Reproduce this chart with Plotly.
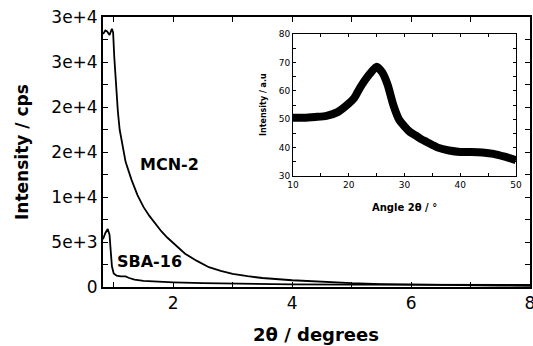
import plotly.graph_objects as go

# ---- data ----
mcn_x = [0.82, 0.86, 0.89, 0.93, 0.97, 0.99, 1.01, 1.04, 1.07, 1.10, 1.15, 1.20, 1.25, 1.30,
         1.40, 1.50, 1.60, 1.70, 1.80, 1.90, 2.0, 2.2, 2.4, 2.6, 2.8, 3.0, 3.25, 3.5, 4.0,
         4.5, 5.0, 5.5, 6.0, 6.5, 7.0, 7.5, 8.0]
mcn_y = [28100, 28500, 28400, 28000, 28700, 28300, 25500, 22000, 19500, 17500, 15500, 13900,
         12900, 11900, 10200, 8900, 7900, 7000, 6200, 5500, 4900, 3700, 2900, 2200, 1800, 1450,
         1200, 1000, 750, 550, 420, 330, 270, 220, 190, 160, 140]

sba_x = [0.82, 0.86, 0.90, 0.93, 0.95, 0.97, 1.00, 1.05, 1.12, 1.20, 1.26, 1.35, 1.5, 1.7,
         2.0, 2.5, 3.0, 4.0, 5.0, 6.0, 7.0, 8.0]
sba_y = [5300, 6000, 6450, 5800, 4000, 2300, 1500, 1250, 1180, 1180, 1000, 820, 680, 600,
         520, 420, 360, 300, 270, 250, 240, 230]

inset_x = [10, 12, 14, 16, 18, 20, 21, 22, 23, 24, 25, 26, 27, 28, 29, 30, 31, 32, 33, 34,
           36, 38, 40, 42, 44, 46, 48, 50]
inset_y = [50.5, 50.5, 50.8, 51.2, 52.5, 55.5, 57.5, 61, 64, 66.5, 68.5, 66.5, 62, 55, 50,
           47.5, 45.5, 44.3, 43, 42, 40, 39, 38.5, 38.5, 38.3, 37.8, 36.8, 35.6]

x_tickvals = [2, 4, 6, 8]
x_ticktext = ["2", "4", "6", "8"]
y_tickvals = [0, 5000, 10000, 15000, 20000, 25000, 30000]
y_ticktext = ["0", "5e+3", "1e+4", "2e+4", "2e+4", "3e+4", "3e+4"]
inset_xticks = [10, 20, 30, 40, 50]
inset_yticks = [30, 40, 50, 60, 70, 80]

FONT = "DejaVu Sans"

fig = go.Figure()
fig.add_trace(go.Scatter(x=mcn_x, y=mcn_y, mode="lines",
                         line=dict(color="black", width=1.8), xaxis="x", yaxis="y"))
fig.add_trace(go.Scatter(x=sba_x, y=sba_y, mode="lines",
                         line=dict(color="black", width=1.8), xaxis="x", yaxis="y"))
fig.add_trace(go.Scatter(x=inset_x, y=inset_y, mode="lines",
                         line=dict(color="black", width=8, shape="spline", smoothing=0.6),
                         xaxis="x2", yaxis="y2"))

axis_common = dict(showgrid=False, zeroline=False, showline=True, linecolor="black",
                   mirror="allticks", ticks="inside", tickcolor="black", automargin=False,
                   ticklabeloverflow="allow")

fig.update_layout(
    template="none",
    width=533, height=346,
    margin=dict(l=103, r=3, t=17, b=59),
    paper_bgcolor="white", plot_bgcolor="white",
    showlegend=False,
    font=dict(family=FONT, color="black"),
    xaxis=dict(**axis_common, range=[0.82, 8], linewidth=1.8, ticklen=5, tickwidth=1.2,
               tickmode="array", tickvals=x_tickvals, ticktext=x_ticktext,
               tickfont=dict(size=17, family=FONT),
               minor=dict(tickvals=[1, 3, 5, 7], ticks="inside", ticklen=5, tickcolor="black")),
    yaxis=dict(**axis_common, range=[0, 30000], linewidth=1.8, ticklen=5, tickwidth=1.2,
               tickmode="array", tickvals=y_tickvals, ticktext=y_ticktext,
               tickfont=dict(size=17, family=FONT),
               minor=dict(tickvals=[2500, 7500, 12500, 17500, 22500, 27500],
                          ticks="inside", ticklen=5, tickcolor="black")),
    xaxis2=dict(**axis_common, domain=[0.445, 0.967], anchor="y2", range=[10, 50],
                linewidth=1, ticklen=3, tickmode="array", tickvals=inset_xticks,
                tickfont=dict(size=9, family=FONT),
                minor=dict(tickvals=[15, 25, 35, 45], ticks="inside", ticklen=3,
                           tickcolor="black")),
    yaxis2=dict(**axis_common, domain=[0.411, 0.937], anchor="x2", range=[30, 80],
                linewidth=1, ticklen=3, tickmode="array", tickvals=inset_yticks,
                tickfont=dict(size=9, family=FONT),
                minor=dict(tickvals=[35, 45, 55, 65, 75], ticks="inside", ticklen=3,
                           tickcolor="black")),
)

ann = [
    dict(text="<b>2θ / degrees</b>", xref="paper", yref="paper", x=0.498, y=0, yshift=-47,
         xanchor="center", yanchor="middle", showarrow=False, font=dict(size=18, family=FONT)),
    dict(text="<b>Intensity / cps</b>", xref="paper", yref="paper", x=0, y=0.5, xshift=-81,
         xanchor="center", yanchor="middle", textangle=-90, showarrow=False,
         font=dict(size=17, family=FONT)),
    dict(text="<b>MCN-2</b>", xref="x", yref="y", x=1.93, y=13600, xanchor="center",
         yanchor="middle", showarrow=False, font=dict(size=16, family=FONT)),
    dict(text="<b>SBA-16</b>", xref="x", yref="y", x=1.6, y=2800, xanchor="center",
         yanchor="middle", showarrow=False, font=dict(size=16, family=FONT)),
    dict(text="<b>Angle 2θ / °</b>", xref="x2 domain", yref="y2 domain", x=0.5, y=0,
         yshift=-31, xanchor="center", yanchor="middle", showarrow=False,
         font=dict(size=10, family=FONT)),
    dict(text="<b>Intensity / a.u</b>", xref="x2 domain", yref="y2 domain", x=0, y=0.5,
         xshift=-30, xanchor="center", yanchor="middle", textangle=-90, showarrow=False,
         font=dict(size=8, family=FONT)),
]
fig.update_layout(annotations=ann)

# remove the page's default body margin so the 533x346 figure fills the window exactly
fig.write_html("out.html", config={"displayModeBar": False},
               post_script="document.body.style.margin='0';document.body.style.overflow='hidden';")
